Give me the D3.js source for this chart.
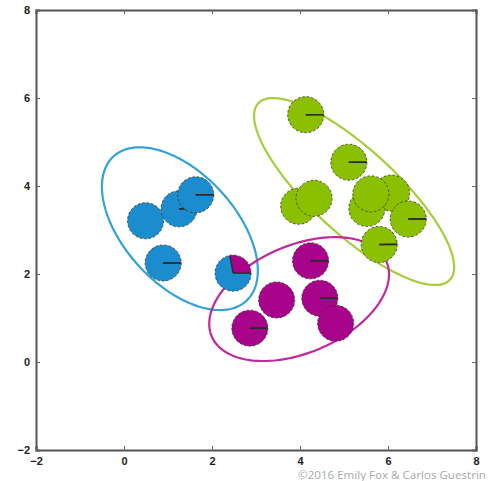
<!DOCTYPE html>
<html>
<head>
<meta charset="utf-8">
<script src="https://cdn.jsdelivr.net/npm/d3@7"></script>
<style>
  body { margin: 0; background: #fff; }
  svg { display: block; }
</style>
</head>
<body>
<script>
// data

const ticks = [-2, 0, 2, 4, 6, 8];

const pointX = [0.49, 1.25, 1.63, 0.89, 2.48, 4.13, 5.11, 3.97, 4.32, 6.08, 5.52, 5.61, 6.46, 5.80, 4.24, 3.47, 4.45, 4.81, 2.86];
const pointY = [3.21, 3.48, 3.80, 2.25, 2.02, 5.62, 4.54, 3.54, 3.72, 3.84, 3.49, 3.82, 3.25, 2.67, 2.30, 1.41, 1.45, 0.88, 0.77];

// responsibilities per cluster
const respBlue = [1, 0.999, 0.999, 0.999, 0.72, 0, 0, 0, 0, 0, 0, 0, 0, 0, 0, 0, 0, 0, 0];
const respGreen = [0, 0, 0, 0, 0, 0.999, 0.999, 1, 1, 1, 1, 1, 0.999, 0.998, 0.002, 0, 0.001, 0, 0.001];
const respMagenta = [0, 0.001, 0.001, 0.001, 0.28, 0.001, 0.001, 0, 0, 0, 0, 0, 0.001, 0.002, 0.998, 1, 0.999, 1, 0.999];

// gaussian ellipses: center, semi axes, rotation (degrees)
const ellCx = [1.27, 5.23, 3.98];
const ellCy = [3.03, 3.875, 1.43];
const ellRx = [2.23, 2.96, 2.16];
const ellRy = [1.26, 0.96, 1.22];
const ellAngle = [-47.4, -42.6, 23.2];

const pointRadius = 0.41;
const copyright = "\u00a92016 Emily Fox & Carlos Guestrin";

// colors

const fillColors = { blue: "#1b8dcf", green: "#8bc000", magenta: "#a8038b" };
const ellColors = ["#34a2d6", "#a8cd3c", "#c1289d"];

// establishing graph

const w = 491;
const h = 481;
const m = {
  top: 10,
  right: 15,
  bottom: 31,
  left: 36 };

const svg = d3.select("body").append("svg").
attr("width", w).
attr("height", h);

const x = d3.scaleLinear().
domain([-2, 8]).
range([m.left, w - m.right]);
const y = d3.scaleLinear().
domain([-2, 8]).
range([h - m.bottom, m.top]);

// ellipses

const line = d3.line().
x(d => x(d[0])).
y(d => y(d[1]));

ellCx.forEach((cx, i) => {
  const a = ellAngle[i] * Math.PI / 180;
  const pts = d3.range(0, 361, 2).map(t => {
    const tt = t * Math.PI / 180;
    const ex = ellRx[i] * Math.cos(tt);
    const ey = ellRy[i] * Math.sin(tt);
    return [cx + ex * Math.cos(a) - ey * Math.sin(a), ellCy[i] + ex * Math.sin(a) + ey * Math.cos(a)];
  });
  svg.append("path").
  attr("d", line(pts)).
  attr("fill", "none").
  attr("stroke", ellColors[i]).
  attr("stroke-width", 2.2);
});

// pie markers

const r = x(pointRadius) - x(0);
const pie = d3.pie().
sort(null).
startAngle(Math.PI / 2).
endAngle(Math.PI / 2 - 2 * Math.PI).
value(d => d.v);
const arc = d3.arc().innerRadius(0).outerRadius(r);

pointX.forEach((px, i) => {
  const vals = [
  { k: "magenta", v: respMagenta[i] },
  { k: "blue", v: respBlue[i] },
  { k: "green", v: respGreen[i] }];

  const g = svg.append("g").
  attr("transform", "translate(" + x(px) + "," + y(pointY[i]) + ")");
  const arcs = pie(vals).filter(d => d.data.v > 0);

  g.selectAll("path").
  data(arcs).
  enter().
  append("path").
  attr("d", arc).
  attr("fill", d => fillColors[d.data.k]);

  if (arcs.length > 1) {
    arcs.forEach(d => {
      g.append("line").
      attr("x1", 0).
      attr("y1", 0).
      attr("x2", r * Math.sin(d.startAngle)).
      attr("y2", -r * Math.cos(d.startAngle)).
      attr("stroke", "#2a2a2a").
      attr("stroke-width", 1.4);
    });
  }

  g.append("circle").
  attr("r", r).
  attr("fill", "none").
  attr("stroke", "#333").
  attr("stroke-opacity", 0.8).
  attr("stroke-width", 1).
  attr("stroke-dasharray", "2.5,2");
});

// axes frame and ticks

const tickLen = 4;
const fmt = d => d < 0 ? "\u2212" + Math.abs(d) : d;

svg.append("g").
attr("transform", "translate(0," + y(-2) + ")").
call(d3.axisBottom(x).tickValues(ticks).tickSize(-tickLen).tickPadding(7).tickFormat(fmt));
svg.append("g").
attr("transform", "translate(0," + y(8) + ")").
call(d3.axisTop(x).tickValues(ticks).tickSize(-tickLen).tickFormat(""));
svg.append("g").
attr("transform", "translate(" + x(-2) + ",0)").
call(d3.axisLeft(y).tickValues(ticks).tickSize(-tickLen).tickPadding(6).tickFormat(fmt));
svg.append("g").
attr("transform", "translate(" + x(8) + ",0)").
call(d3.axisRight(y).tickValues(ticks).tickSize(-tickLen).tickFormat(""));

svg.selectAll(".domain").
attr("stroke", "#555").
attr("stroke-width", 2);
svg.selectAll(".tick line").
attr("stroke", "#666");
svg.selectAll(".tick text").
attr("font-family", "Liberation Sans, Arial, sans-serif").
attr("font-weight", "bold").
attr("font-size", 11).
attr("fill", "#222");

// copyright

svg.append("text").
attr("x", 298).
attr("y", 479).
attr("font-family", "Open Sans, sans-serif").
attr("font-size", 11.6).
attr("fill", "#a8a8a8").
text(copyright);
</script>
</body>
</html>
